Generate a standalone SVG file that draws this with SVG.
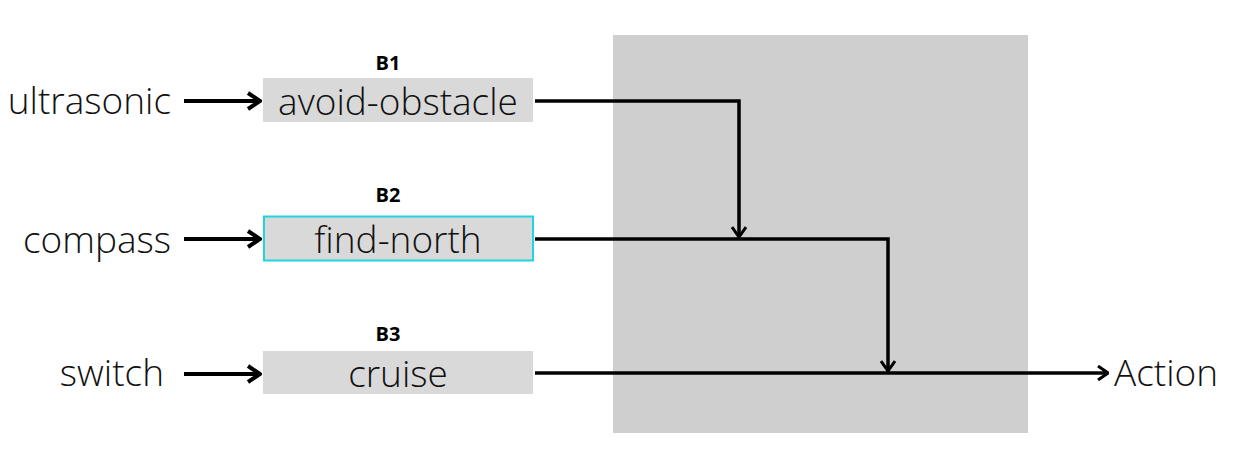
<svg xmlns="http://www.w3.org/2000/svg" width="1243" height="474" viewBox="0 0 1243 474">
<style>
.lbl{font-family:"Open Sans","Noto Sans",sans-serif;font-weight:300;font-size:37px;fill:#111}
.bid{font-family:"Open Sans","Noto Sans",sans-serif;font-weight:700;font-size:20px;fill:#000;text-anchor:middle}
.box{fill:#d9d9d9}
.in{stroke:#000;stroke-width:4;fill:none}
.ln{stroke:#000;stroke-width:3.5;fill:none}
</style>
<defs>
<marker id="ah" viewBox="0 0 12 16" refX="11" refY="8" markerWidth="12" markerHeight="16" markerUnits="userSpaceOnUse" orient="auto">
<path d="M1,1 L11,8 L1,15" fill="none" stroke="#000" stroke-width="3"/>
</marker>
<marker id="ah2" viewBox="0 0 16 20" refX="14" refY="10" markerWidth="16" markerHeight="20" markerUnits="userSpaceOnUse" orient="auto">
<path d="M2,2 L14,10 L2,18" fill="none" stroke="#000" stroke-width="4"/>
</marker>
</defs>
<rect x="613" y="35" width="415" height="398" fill="#cfcfcf"/>
<g id="in-ultrasonic"><text class="lbl" x="171" y="114" text-anchor="end">ultrasonic</text></g>
<g id="in-compass"><text class="lbl" x="171" y="253" text-anchor="end">compass</text></g>
<g id="in-switch"><text class="lbl" x="164" y="386" text-anchor="end">switch</text></g>
<g id="B1"><rect class="box" x="263" y="78" width="270" height="44"/><text class="bid" x="388" y="70">B1</text><text class="lbl" x="398" y="115" text-anchor="middle">avoid-obstacle</text></g>
<g id="B2"><rect class="box" x="264" y="216.5" width="269" height="44" stroke="#22d3e0" stroke-width="2"/><text class="bid" x="388" y="202">B2</text><text class="lbl" x="398" y="253" text-anchor="middle">find-north</text></g>
<g id="B3"><rect class="box" x="263" y="351" width="270" height="43"/><text class="bid" x="388" y="341">B3</text><text class="lbl" x="398" y="387" text-anchor="middle">cruise</text></g>
<g id="out-action"><text class="lbl" x="1114" y="386">Action</text></g>
<g id="connectors">
<path class="in" d="M184,101 H260" marker-end="url(#ah2)"/>
<path class="in" d="M184,239 H260" marker-end="url(#ah2)"/>
<path class="in" d="M184,374 H260" marker-end="url(#ah2)"/>
<path class="ln" d="M535,101 H739 V237" marker-end="url(#ah)"/>
<path class="ln" d="M535,239 H888 V371" marker-end="url(#ah)"/>
<path class="ln" d="M535,373 H1108" marker-end="url(#ah)"/>
</g>
</svg>
